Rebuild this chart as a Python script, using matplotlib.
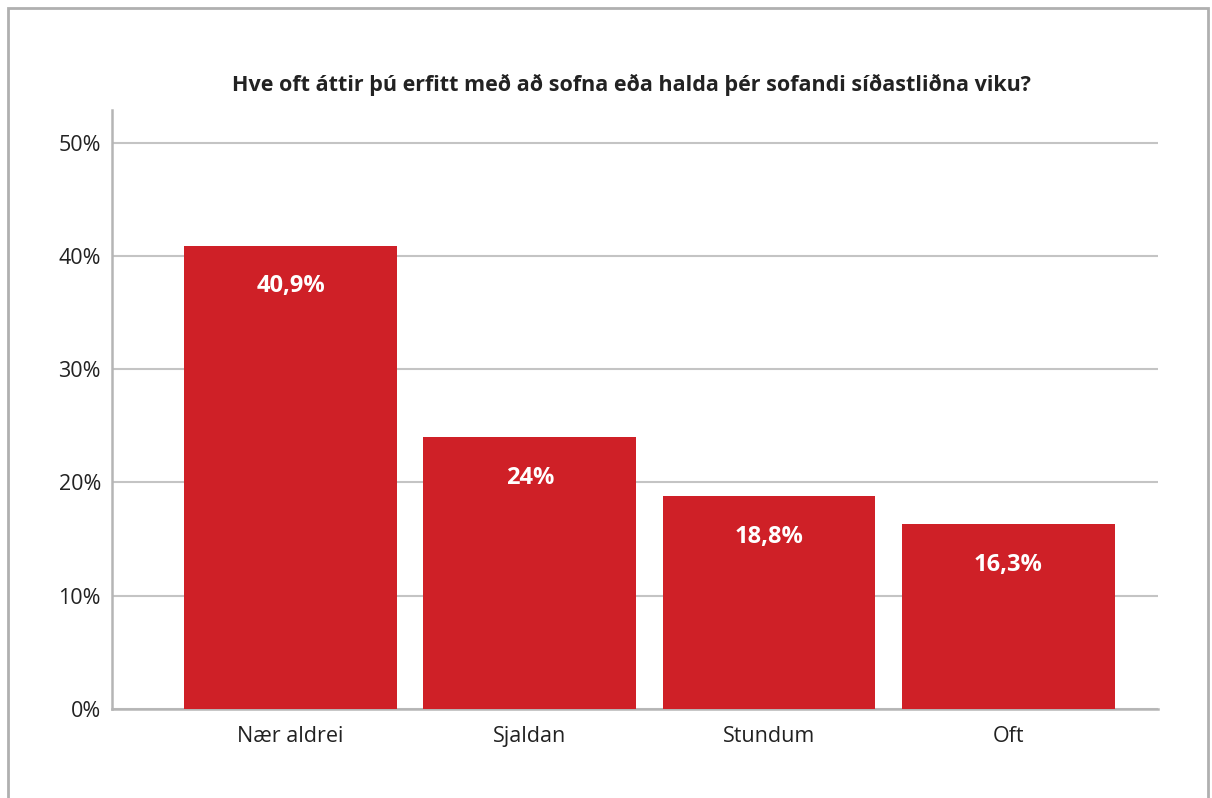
import matplotlib.pyplot as plt
from matplotlib.patches import Rectangle

# Data
categories = ['Nær aldrei', 'Sjaldan', 'Stundum', 'Oft']
values = [40.9, 24.0, 18.8, 16.3]
value_labels = ['40,9%', '24%', '18,8%', '16,3%']
yticks = [0, 10, 20, 30, 40, 50]
title = 'Hve oft áttir þú erfitt með að sofna eða halda þér sofandi síðastliðna viku?'

plt.rcParams['font.family'] = ['Open Sans', 'DejaVu Sans']

fig = plt.figure(figsize=(12.12, 7.98), dpi=100)
ax = fig.add_axes([0.0924, 0.1115, 0.863, 0.751])

# outer frame
fig.patches.append(Rectangle((8 / 1212, -0.05), 1200 / 1212, 1 - 8 / 798 + 0.05,
                             transform=fig.transFigure, fill=False,
                             edgecolor='#b0b0b0', linewidth=2))

red = '#cf2027'
x = range(len(categories))
bars = ax.bar(x, values, width=0.89, color=red, zorder=3)

for b, lab in zip(bars, value_labels):
    ax.text(b.get_x() + b.get_width() / 2, b.get_height() - 3.6, lab,
            ha='center', va='center', color='white', fontsize=17,
            fontweight='bold', zorder=4)

ax.set_xlim(-0.747, 3.626)
ax.set_ylim(0, 52.9)
ax.set_yticks(yticks)
ax.set_yticklabels([f'{t}%' for t in yticks])
ax.set_xticks(list(x))
ax.set_xticklabels(categories)
ax.tick_params(length=0, labelsize=15.5, colors='#222222')
ax.tick_params(axis='y', pad=8)
ax.tick_params(axis='x', pad=12)

ax.grid(axis='y', color='#c4c4c4', linewidth=1.5, zorder=0)
for s in ['top', 'right']:
    ax.spines[s].set_visible(False)
for s in ['left', 'bottom']:
    ax.spines[s].set_color('#b5b5b5')
    ax.spines[s].set_linewidth(1.8)

fig.text(0.5206, 1 - 85 / 798, title, ha='center', va='center',
         fontsize=15.5, fontweight='bold', color='#222222')

fig.savefig('out.png', dpi=100)
